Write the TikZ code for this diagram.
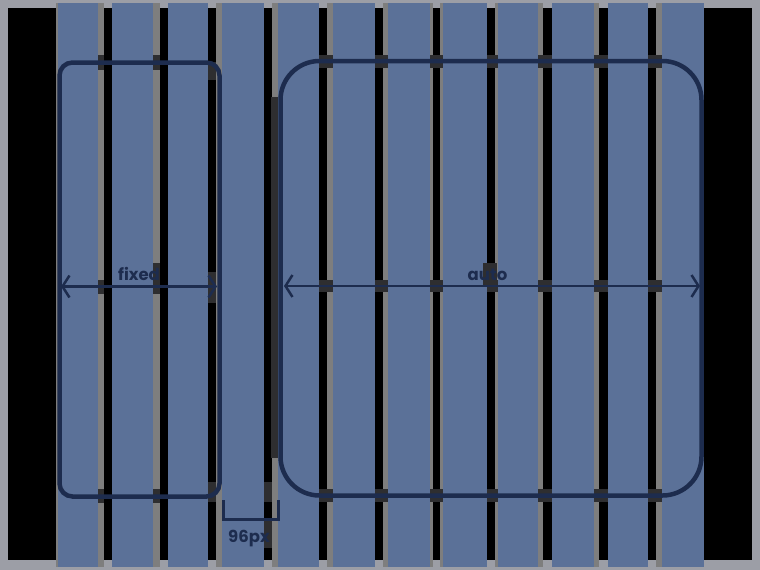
\documentclass[tikz,border=0pt]{standalone}
\usepackage{fontspec}
\setmainfont{Poppins}
\usetikzlibrary{arrows.meta}
\definecolor{frame}{RGB}{156,158,166}
\definecolor{gutter}{RGB}{126,126,126}
\definecolor{colblue}{RGB}{91,113,152}
\definecolor{navy}{RGB}{29,44,78}
\definecolor{patchgrey}{RGB}{46,46,48}
\begin{document}
\begin{tikzpicture}[x=1pt,y=-1pt,
  box/.style={draw=navy,line width=4.5pt,inner sep=0pt,outer sep=0pt},
  dimline/.style={draw=navy,line width=2.5pt,{Straight Barb[length=7pt,width=22pt]}-{Straight Barb[length=7pt,width=22pt]}},
  bracket/.style={draw=navy,line width=3pt,line join=miter},
  patch/.style={fill=patchgrey},
  lbl/.style={text=navy,inner sep=0pt,anchor=base,font=\bfseries\fontsize{16.5}{16.5}\selectfont}]
\useasboundingbox (0,0) rectangle (760,570);
\fill[frame] (0,0) rectangle (760,570);
\fill[black] (8,8) rectangle (752,560);
% gutter strips
\foreach \a/\b in {56/58,98/104,153/160,216/222,272/278,327/333,383/388,430/433,440/443,495/498,538/543,594/599,656/662}
  \fill[gutter] (\a,3) rectangle (\b,567);
% columns
\foreach \a/\b in {58/98,112/153,168/208,222/264,278/319,333/375,388/430,443/487,498/538,552/594,608/648,662/704}
  \fill[colblue] (\a,3) rectangle (\b,567);
% dark patches where lines cross gutters
\foreach \a/\b in {98/104,153/160}{
  \path[patch] (\a,55) rectangle (\b,70);
  \path[patch] (\a,489) rectangle (\b,503);
  \path[patch] (\a,280) rectangle (\b,294);}
\foreach \a/\b in {319/333,375/388,430/443,487/498,538/552,594/608,648/662}{
  \path[patch] (\a,55) rectangle (\b,68);
  \path[patch] (\a,489) rectangle (\b,502);
  \path[patch] (\a,280) rectangle (\b,292);}
\path[patch] (208,62) rectangle (216,80);
\path[patch] (208,272) rectangle (216,303);
\path[patch] (208,482) rectangle (216,502);
\path[patch] (271,97) rectangle (278,458);
\path[patch] (264,482) rectangle (272,502);
\path[patch] (153,263) rectangle (160,280);
\path[patch] (483,263) rectangle (497,285);
\path[patch] (264,520) rectangle (272,548);
% boxes
\node[box,rounded corners=13pt,minimum width=160pt,minimum height=434pt] (fixedbox) at (139.5,279.5) {};
\node[box,rounded corners=39pt,minimum width=421pt,minimum height=434.5pt] (autobox) at (491,278.25) {};
% dimension arrows
\coordinate (fa) at (61,286.5);
\coordinate (fb) at (217,286.5);
\coordinate (aa) at (284,286);
\coordinate (ab) at (700,286);
\draw[dimline] (fa) -- (fb);
\draw[dimline] (aa) -- (ab);
\node[lbl] (fixedlbl) at (139,280) {fixed};
\node[lbl] (autolbl) at (487.5,280) {auto};
% gap bracket
\coordinate (g1) at (223,500);
\coordinate (g2) at (223,519);
\coordinate (g3) at (278,519);
\coordinate (g4) at (278,500);
\draw[bracket] (g1) -- (g2) -- (g3) -- (g4);
\node[lbl] (gaplbl) at (249,542) {96px};
\end{tikzpicture}
\end{document}
